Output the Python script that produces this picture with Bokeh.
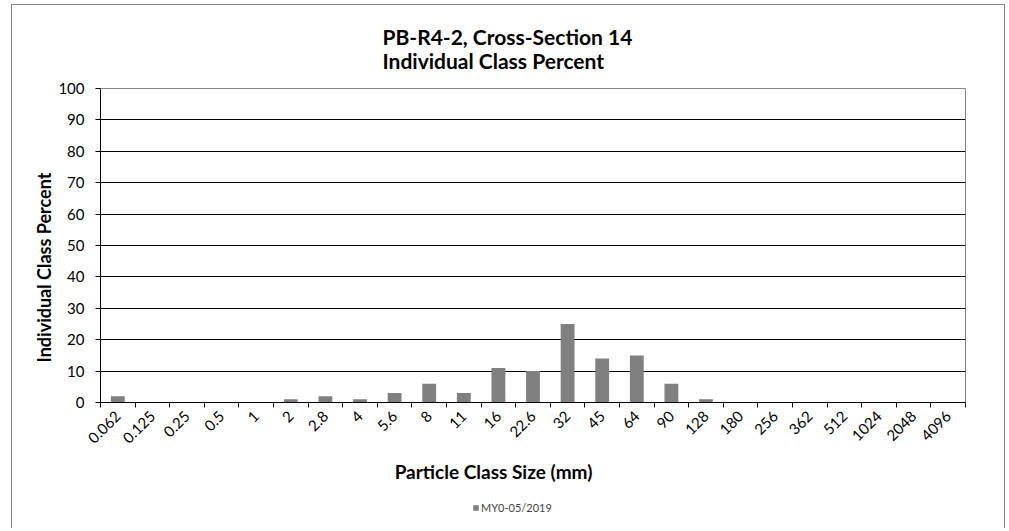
from math import pi
from bokeh.plotting import figure
from bokeh.layouts import column
from bokeh.models import (FixedTicker, Legend, LegendItem, ColumnDataSource, Range1d,
                          Title, Label)
from bokeh.embed import file_html
from bokeh.resources import INLINE

sizes = ["0.062", "0.125", "0.25", "0.5", "1", "2", "2.8", "4", "5.6", "8", "11",
         "16", "22.6", "32", "45", "64", "90", "128", "180", "256", "362", "512",
         "1024", "2048", "4096"]
percent = [2, 0, 0, 0, 0, 1, 2, 1, 3, 6, 3, 11, 10, 25, 14, 15, 6, 1, 0, 0, 0, 0, 0, 0, 0]
series_name = "MY0-05/2019"
title_lines = ["PB-R4-2, Cross-Section 14", "Individual Class Percent"]
x_title = "Particle Class Size (mm)"
y_title = "Individual Class Percent"
y_ticks = list(range(0, 101, 10))

FONT = "Lato"
BAR_COLOR = "#808080"
n = len(sizes)
centers = [i + 0.5 for i in range(n)]
src = ColumnDataSource(dict(x=centers, top=percent))

TOTAL_W = 88 + 865 + 39

p = figure(frame_width=865, frame_height=314,
           x_range=Range1d(0, n), y_range=Range1d(0, 100),
           output_backend="svg", toolbar_location=None,
           min_border_left=88, min_border_right=39, min_border_top=83, min_border_bottom=56)
p.title.visible = False

r = p.vbar(x="x", top="top", width=0.4, source=src, fill_color=BAR_COLOR, line_color=None)

p.outline_line_color = "#868686"
p.background_fill_color = "white"
p.border_fill_color = "white"

# x axis
p.xaxis.ticker = FixedTicker(ticks=centers, minor_ticks=list(range(n + 1)))
p.xaxis.major_label_overrides = {c: s for c, s in zip(centers, sizes)}
p.xaxis.major_label_orientation = pi / 4
p.xaxis.major_tick_line_color = None
p.xaxis.minor_tick_line_color = "black"
p.xaxis.minor_tick_in = 0
p.xaxis.minor_tick_out = 5
p.xaxis.axis_line_color = "black"
p.xaxis.major_label_text_font = FONT
p.xaxis.major_label_text_font_size = "15px"
p.xaxis.major_label_text_color = "black"
p.xaxis.major_label_standoff = 5
p.xgrid.grid_line_color = None

# y axis
p.yaxis.ticker = FixedTicker(ticks=y_ticks, minor_ticks=[])
p.yaxis.major_tick_in = 0
p.yaxis.major_tick_out = 5
p.yaxis.major_tick_line_color = "black"
p.yaxis.axis_line_color = "black"
p.yaxis.major_label_text_font = FONT
p.yaxis.major_label_text_font_size = "15px"
p.yaxis.major_label_text_color = "black"
p.yaxis.major_label_standoff = 11
p.ygrid.grid_line_color = "black"
p.ygrid.grid_line_width = 1

# chart title (two lines, left-aligned block)
p.add_layout(Title(text="\n".join(title_lines), align="left", offset=282,
                   text_font=FONT, text_font_size="21px", text_font_style="bold",
                   text_color="black", text_line_height=0.96, standoff=31), "above")

# y axis title
p.add_layout(Title(text=y_title, align="left", offset=40,
                   text_font=FONT, text_font_size="18px", text_font_style="bold",
                   text_color="black", standoff=2), "left")

# footer strip: x-axis title and legend
FOOT_H = 70
p2 = figure(frame_width=TOTAL_W, frame_height=FOOT_H,
            x_range=Range1d(0, TOTAL_W), y_range=Range1d(0, FOOT_H),
            output_backend="svg", toolbar_location=None, min_border=0)
p2.title.visible = False
p2.axis.visible = False
p2.grid.visible = False
p2.outline_line_color = None
p2.background_fill_color = "white"
p2.border_fill_color = "white"
p2.extra_y_ranges = {"hidden": Range1d(1000, 2000)}

p2.add_layout(Label(x=393, y=57, text=x_title, text_align="center",
                    text_baseline="alphabetic", text_font=FONT, text_font_size="19px",
                    text_font_style="bold", text_color="black"))

# same series, mapped into an off-screen range so only its legend swatch shows
r2 = p2.vbar(x="x", top="top", width=0.4, source=src, y_range_name="hidden",
             fill_color=BAR_COLOR, line_color=None)
legend = Legend(items=[LegendItem(label=series_name, renderers=[r2])],
                location=(460, 14), orientation="horizontal",
                glyph_width=7, glyph_height=7, label_text_font=FONT,
                label_text_font_size="11px", label_standoff=2,
                border_line_color=None, background_fill_alpha=0,
                margin=0, padding=0, spacing=0, label_height=12)
p2.add_layout(legend)

layout = column(p, p2, spacing=0,
                styles={"margin-left": "11px", "margin-top": "4px",
                        "border-left": "1px solid #868686", "border-top": "1px solid #868686",
                        "border-right": "1px solid #868686"})

open("out.html", "w").write(file_html(layout, INLINE))
